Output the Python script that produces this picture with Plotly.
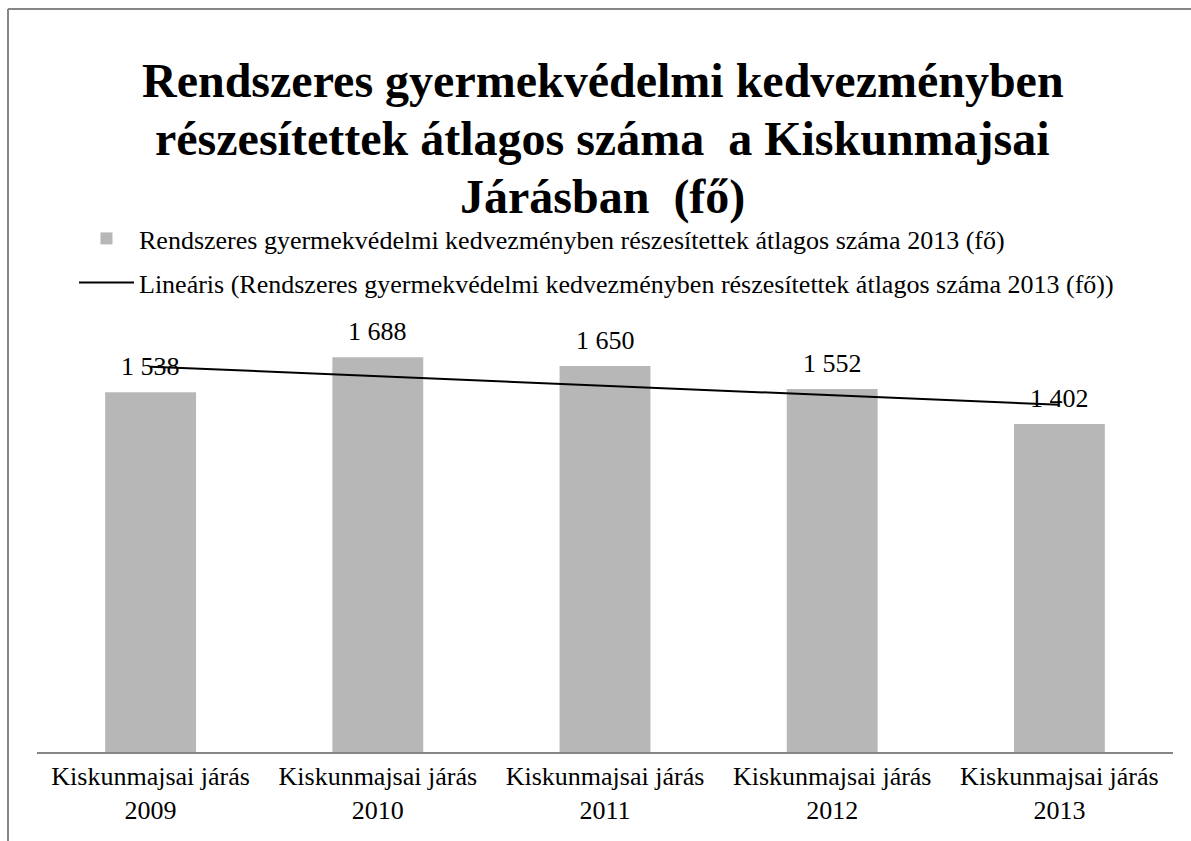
import plotly.graph_objects as go
import numpy as np

categories = ["Kiskunmajsai járás<br>2009", "Kiskunmajsai járás<br>2010",
              "Kiskunmajsai járás<br>2011", "Kiskunmajsai járás<br>2012",
              "Kiskunmajsai járás<br>2013"]
values = [1538, 1688, 1650, 1552, 1402]
series_name = "Rendszeres gyermekvédelmi kedvezményben részesítettek átlagos száma 2013 (fő)"
trend_name = "Lineáris (" + series_name + ")"
title_lines = ["Rendszeres gyermekvédelmi kedvezményben",
               "részesítettek átlagos száma \u00a0a Kiskunmajsai",
               "Járásban \u00a0(fő)"]

W, H = 1191, 841
FONT = "Liberation Serif, Times New Roman, serif"

# linear trend (least squares)
xi = np.arange(1, len(values) + 1)
slope, intercept = np.polyfit(xi, values, 1)
trend = list(slope * xi + intercept)

fig = go.Figure()
fig.add_trace(go.Bar(
    x=categories, y=values, name=series_name,
    marker=dict(color="#b7b7b7", line=dict(width=0)),
    legend="legend",
))
fig.add_trace(go.Scatter(
    x=categories, y=trend, name=trend_name, mode="lines",
    line=dict(color="#000000", width=2),
    legend="legend2",
))

for c, v in zip(categories, values):
    fig.add_annotation(
        x=c, y=v, xref="x", yref="y", text=f"{v:,}".replace(",", " "),
        showarrow=False, yanchor="bottom", yshift=9,
        font=dict(family=FONT, size=26, color="#000000"),
    )

# title, one annotation per line
for i, line in enumerate(title_lines):
    fig.add_annotation(
        x=0.506, y=1 - (80 + 58.5 * i) / H, xref="paper", yref="paper",
        text=f"<b>{line}</b>", showarrow=False, xanchor="center", yanchor="middle",
        font=dict(family=FONT, size=48, color="#000000"),
    )

# frame border (top and left visible)
fig.add_shape(type="line", xref="paper", yref="paper",
              x0=8 / W, x1=1.0, y0=1 - 9 / H, y1=1 - 9 / H,
              line=dict(color="#868686", width=2))
fig.add_shape(type="line", xref="paper", yref="paper",
              x0=8 / W, x1=8 / W, y0=0, y1=1 - 9 / H,
              line=dict(color="#868686", width=2))

fig.update_layout(
    width=W, height=H,
    margin=dict(l=0, r=0, t=0, b=0),
    paper_bgcolor="white", plot_bgcolor="white",
    font=dict(family=FONT, color="#000000"),
    bargap=0.6,
    showlegend=True,
    legend=dict(x=74 / W, y=1 - 215 / H, xanchor="left", yanchor="top",
                itemwidth=55,
                font=dict(family=FONT, size=26), bgcolor="rgba(0,0,0,0)"),
    legend2=dict(x=74 / W, y=1 - 259 / H, xanchor="left", yanchor="top",
                 itemwidth=55,
                 font=dict(family=FONT, size=26), bgcolor="rgba(0,0,0,0)"),
    xaxis=dict(domain=[37 / W, 1173 / W], showline=True, linecolor="#868686",
               linewidth=2, ticks="", showgrid=False,
               tickfont=dict(family=FONT, size=26, color="#000000")),
    yaxis=dict(domain=[(H - 752) / H, (H - 331) / H], range=[0, 1800],
               visible=False, showgrid=False),
)

fig.write_html("out.html", config={"displayModeBar": False},
               post_script="document.body.style.margin='0';document.body.style.overflow='hidden';")
